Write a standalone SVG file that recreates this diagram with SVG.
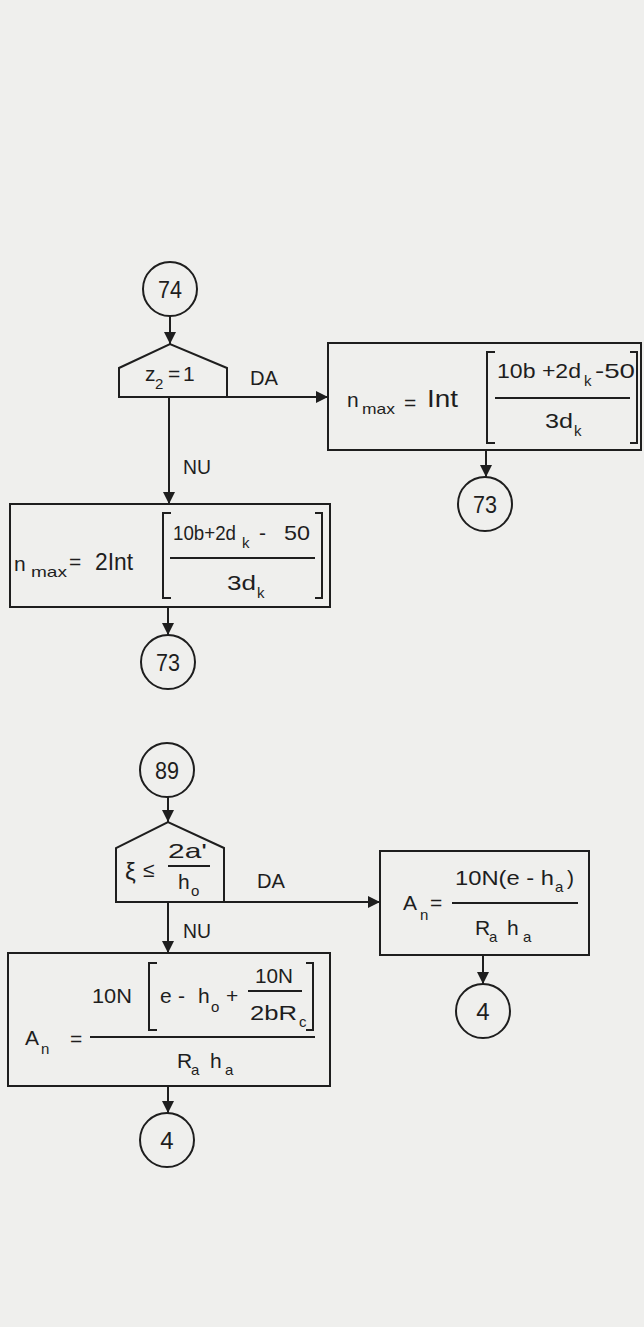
<svg xmlns="http://www.w3.org/2000/svg" width="644" height="1327" viewBox="0 0 644 1327">
<defs>
<marker id="arr" viewBox="0 0 12 12" refX="12" refY="6" markerWidth="12" markerHeight="12" markerUnits="userSpaceOnUse" orient="auto">
<path d="M0,0 L12,6 L0,12 z" fill="#1e1e1e"/>
</marker>
<style>
.s{fill:none;stroke:#1e1e1e;stroke-width:2}
.t{font-family:"Liberation Sans","DejaVu Sans",sans-serif;font-size:21px;fill:#1e1e1e}
.sub{font-family:"Liberation Sans","DejaVu Sans",sans-serif;font-size:15px;fill:#1e1e1e}
.big{font-family:"Liberation Sans","DejaVu Sans",sans-serif;font-size:24px;fill:#1e1e1e}
.c{text-anchor:middle}
</style>
</defs>
<rect x="0" y="0" width="644" height="1327" fill="#efefed"/>

<g id="connectors">
<line class="s" x1="170" y1="316" x2="170" y2="344" marker-end="url(#arr)"/>
<line class="s" x1="227" y1="397" x2="328" y2="397" marker-end="url(#arr)"/>
<line class="s" x1="169" y1="397" x2="169" y2="504" marker-end="url(#arr)"/>
<line class="s" x1="486" y1="450" x2="486" y2="477" marker-end="url(#arr)"/>
<line class="s" x1="168" y1="607" x2="168" y2="635" marker-end="url(#arr)"/>
<line class="s" x1="168" y1="797" x2="168" y2="822" marker-end="url(#arr)"/>
<line class="s" x1="224" y1="902" x2="380" y2="902" marker-end="url(#arr)"/>
<line class="s" x1="168" y1="902" x2="168" y2="953" marker-end="url(#arr)"/>
<line class="s" x1="483" y1="955" x2="483" y2="984" marker-end="url(#arr)"/>
<line class="s" x1="168" y1="1086" x2="168" y2="1113" marker-end="url(#arr)"/>
<text class="t" x="250" y="385" textLength="28" lengthAdjust="spacingAndGlyphs">DA</text>
<text class="t" x="183" y="474" textLength="28" lengthAdjust="spacingAndGlyphs">NU</text>
<text class="t" x="257" y="888" textLength="28" lengthAdjust="spacingAndGlyphs">DA</text>
<text class="t" x="183" y="938" textLength="28" lengthAdjust="spacingAndGlyphs">NU</text>
</g>

<g id="n74">
<circle class="s" cx="170" cy="289" r="27"/>
<text class="big c" x="170" y="298" textLength="24" lengthAdjust="spacingAndGlyphs">74</text>
</g>

<g id="dec_z2">
<path class="s" d="M119,397 L119,368 L170,344 L227,368 L227,397 Z"/>
<text class="t" x="145" y="381">z</text>
<text class="sub" x="155" y="389">2</text>
<text class="t" x="168" y="381">=</text>
<text class="t" x="183" y="381">1</text>
</g>

<g id="box_nmax1">
<rect class="s" x="328" y="343" width="313" height="107"/>
<text class="t" x="347" y="407">n</text>
<text class="sub" x="362" y="414" textLength="33" lengthAdjust="spacingAndGlyphs">max</text>
<text class="t" x="404" y="410">=</text>
<text class="big" x="427" y="407" textLength="31" lengthAdjust="spacingAndGlyphs">Int</text>
<path class="s" d="M495,352 L487,352 L487,443 L495,443"/>
<path class="s" d="M630,352 L637,352 L637,443 L630,443"/>
<text class="t" x="497" y="378" textLength="84" lengthAdjust="spacingAndGlyphs">10b +2d</text>
<text class="sub" x="584" y="386">k</text>
<text class="t" x="595" y="378" textLength="40" lengthAdjust="spacingAndGlyphs">-50</text>
<line class="s" x1="495" y1="398" x2="630" y2="398"/>
<text class="t" x="545" y="428" textLength="28" lengthAdjust="spacingAndGlyphs">3d</text>
<text class="sub" x="574" y="436">k</text>
</g>

<g id="n73a">
<circle class="s" cx="485" cy="504" r="27"/>
<text class="big c" x="485" y="513" textLength="24" lengthAdjust="spacingAndGlyphs">73</text>
</g>

<g id="box_nmax2">
<rect class="s" x="10" y="504" width="320" height="103"/>
<text class="t" x="14" y="571">n</text>
<text class="sub" x="31" y="577" textLength="36" lengthAdjust="spacingAndGlyphs">max</text>
<text class="t" x="69" y="569">=</text>
<text class="big" x="95" y="570" textLength="38" lengthAdjust="spacingAndGlyphs">2Int</text>
<path class="s" d="M171,513 L163,513 L163,598 L171,598"/>
<path class="s" d="M315,513 L322,513 L322,598 L315,598"/>
<text class="t" x="173" y="540" textLength="63" lengthAdjust="spacingAndGlyphs">10b+2d</text>
<text class="sub" x="242" y="548">k</text>
<text class="t" x="259" y="540">-</text>
<text class="t" x="284" y="540" textLength="26" lengthAdjust="spacingAndGlyphs">50</text>
<line class="s" x1="170" y1="558" x2="315" y2="558"/>
<text class="t" x="227" y="590" textLength="29" lengthAdjust="spacingAndGlyphs">3d</text>
<text class="sub" x="257" y="598">k</text>
</g>

<g id="n73b">
<circle class="s" cx="168" cy="662" r="27"/>
<text class="big c" x="168" y="671" textLength="24" lengthAdjust="spacingAndGlyphs">73</text>
</g>

<g id="n89">
<circle class="s" cx="167" cy="770" r="27"/>
<text class="big c" x="167" y="779" textLength="24" lengthAdjust="spacingAndGlyphs">89</text>
</g>

<g id="dec_xi">
<path class="s" d="M116,902 L116,848 L168,822 L224,848 L224,902 Z"/>
<text class="big" x="125" y="880">ξ</text>
<text class="t" x="143" y="877">≤</text>
<text class="t" x="168" y="858" textLength="39" lengthAdjust="spacingAndGlyphs">2a'</text>
<line class="s" x1="168" y1="866" x2="210" y2="866"/>
<text class="t" x="178" y="889">h</text>
<text class="sub" x="191" y="896">o</text>
</g>

<g id="box_an1">
<rect class="s" x="380" y="851" width="209" height="104"/>
<text class="t" x="403" y="910">A</text>
<text class="sub" x="420" y="920">n</text>
<text class="t" x="430" y="910">=</text>
<text class="t" x="455" y="885" textLength="99" lengthAdjust="spacingAndGlyphs">10N(e - h</text>
<text class="sub" x="555" y="892">a</text>
<text class="t" x="567" y="885">)</text>
<line class="s" x1="452" y1="903" x2="578" y2="903"/>
<text class="t" x="475" y="935">R</text>
<text class="sub" x="489" y="942">a</text>
<text class="t" x="507" y="935">h</text>
<text class="sub" x="523" y="942">a</text>
</g>

<g id="n4a">
<circle class="s" cx="483" cy="1011" r="27"/>
<text class="big c" x="483" y="1020">4</text>
</g>

<g id="box_an2">
<rect class="s" x="8" y="953" width="322" height="133"/>
<text class="t" x="92" y="1003" textLength="40" lengthAdjust="spacingAndGlyphs">10N</text>
<path class="s" d="M157,963 L149,963 L149,1030 L157,1030"/>
<path class="s" d="M306,963 L313,963 L313,1030 L306,1030"/>
<text class="t" x="160" y="1003">e</text>
<text class="t" x="178" y="1003">-</text>
<text class="t" x="198" y="1003">h</text>
<text class="sub" x="211" y="1012">o</text>
<text class="t" x="226" y="1003">+</text>
<text class="t" x="255" y="983" textLength="38" lengthAdjust="spacingAndGlyphs">10N</text>
<line class="s" x1="248" y1="991" x2="302" y2="991"/>
<text class="t" x="250" y="1020" textLength="47" lengthAdjust="spacingAndGlyphs">2bR</text>
<text class="sub" x="299" y="1027">c</text>
<text class="t" x="25" y="1045">A</text>
<text class="sub" x="41" y="1054">n</text>
<text class="t" x="70" y="1046">=</text>
<line class="s" x1="90" y1="1037" x2="315" y2="1037"/>
<text class="t" x="177" y="1068">R</text>
<text class="sub" x="191" y="1075">a</text>
<text class="t" x="210" y="1068">h</text>
<text class="sub" x="225" y="1075">a</text>
</g>

<g id="n4b">
<circle class="s" cx="167" cy="1140" r="27"/>
<text class="big c" x="167" y="1149">4</text>
</g>
</svg>
